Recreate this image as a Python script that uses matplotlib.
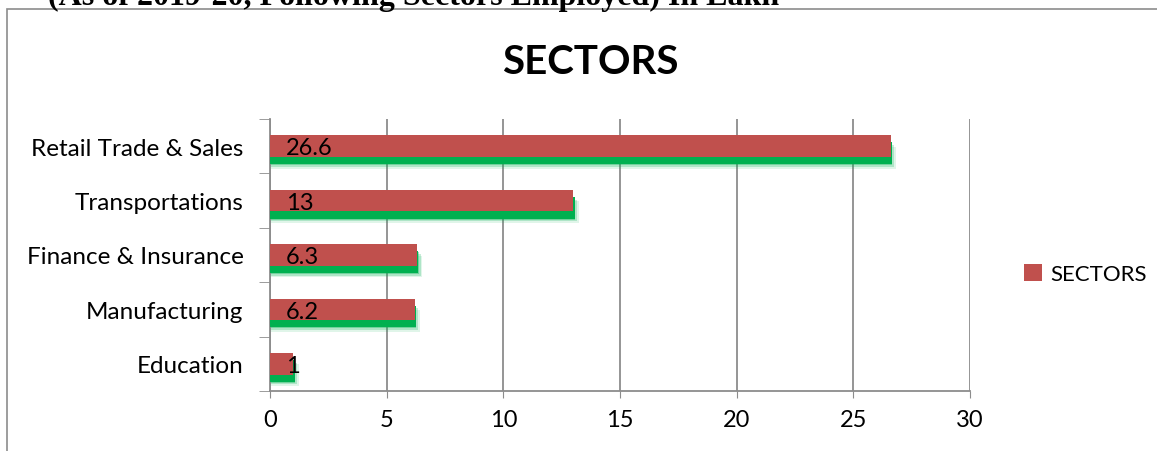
import matplotlib.pyplot as plt
from matplotlib.patches import Rectangle
import numpy as np

sectors = ["Retail Trade & Sales", "Transportations", "Finance & Insurance",
           "Manufacturing", "Education"]
employed = [26.6, 13, 6.3, 6.2, 1]
x_ticks = [0, 5, 10, 15, 20, 25, 30]

red = "#C0504D"
green = "#00B050"
grey = "#8C8C8C"

plt.rcParams['font.family'] = ['Lato', 'DejaVu Sans']

fig = plt.figure(figsize=(11.57, 4.52), dpi=100)
ax = fig.add_axes([270 / 1157, 1 - 392 / 452, 700 / 1157, 272 / 452])

# outer chart frame and the cut-off heading above it
fig.patches.append(Rectangle((7 / 1157, -0.1), 1.2, 1.1 - 10 / 452, transform=fig.transFigure,
                             fill=False, edgecolor=grey, lw=1.2))
fig.text(48 / 1157, 1 - 5 / 452, "(As of 2019-20, Following Sectors Employed) In Lakh",
         family="Liberation Serif", weight="bold", fontsize=23, va="baseline")

y = np.arange(len(sectors))[::-1]
h = 0.4

# green "shadow" layers, fading out
for k, a in enumerate([0.12, 0.22, 0.35]):
    off = 0.05 * (3 - k)
    ax.barh(y - 0.12 - off * 0.6, np.array(employed) + off * 1.5, height=h, left=0,
            color=green, alpha=a, lw=0, zorder=2)
ax.barh(y - 0.13, np.array(employed) + 0.05, height=h, color=green, lw=0, zorder=3)
bars = ax.barh(y, employed, height=h, color=red, lw=0, zorder=4, label="SECTORS")

for yi, v in zip(y, employed):
    ax.text(0.68, yi - 0.03, f"{v:g}", va="center", ha="left", fontsize=17, zorder=5)

ax.set_xlim(0, 30)
ax.set_ylim(-0.5, len(sectors) - 0.5)
ax.set_xticks(x_ticks)
ax.tick_params(axis="x", labelsize=17, length=5, color=grey, pad=8)
ax.set_yticks(y)
ax.set_yticklabels(sectors, fontsize=17.5)
ax.tick_params(axis="y", length=0, pad=19)
ax.set_yticks(np.arange(-0.5, len(sectors), 1), minor=True)
ax.tick_params(axis="y", which="minor", length=8, color=grey)
ax.grid(axis="x", color=grey, lw=1.3, zorder=0)
ax.set_axisbelow(True)
for s in ["top", "right"]:
    ax.spines[s].set_visible(False)
for s in ["left", "bottom"]:
    ax.spines[s].set_color(grey)
    ax.spines[s].set_linewidth(1.3)

fig.text(590 / 1157, 1 - 62 / 452, "SECTORS", ha="center", va="center",
         fontsize=29, weight="bold")
fig.legend(handles=[bars], labels=["SECTORS"], loc="center left",
           bbox_to_anchor=(1004 / 1157, 1 - 275 / 452), frameon=False, fontsize=16,
           handlelength=0.8, handleheight=0.8, handletextpad=0.4)

fig.savefig("out.png", dpi=100)
